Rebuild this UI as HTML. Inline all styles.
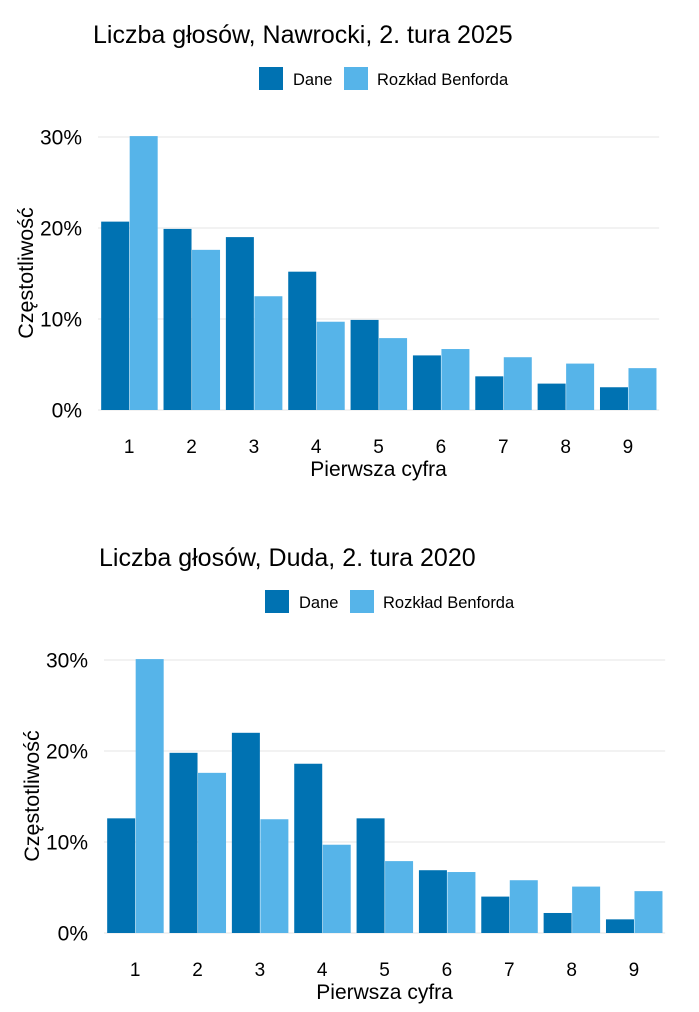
<!DOCTYPE html>
<html><head><meta charset="utf-8"><style>
body{margin:0;background:#fff;}
svg{display:block;font-family:"Liberation Sans",sans-serif;}
</style></head><body>
<svg id="s" width="699" height="1012"></svg>
<script>
const categories=["1","2","3","4","5","6","7","8","9"];
const benford=[30.1,17.6,12.5,9.7,7.9,6.7,5.8,5.1,4.6];
const nawrocki=[20.7,19.9,19.0,15.2,9.9,6.0,3.7,2.9,2.5];
const duda=[12.6,19.8,22.0,18.6,12.6,6.9,4.0,2.2,1.5];
const yTicks=[0,10,20,30];
const titles=["Liczba głosów, Nawrocki, 2. tura 2025","Liczba głosów, Duda, 2. tura 2020"];
const NS="http://www.w3.org/2000/svg";
const svg=document.getElementById('s');
function mk(tag,attrs,parent,text){const e=document.createElementNS(NS,tag);for(const k in attrs)e.setAttribute(k,attrs[k]);if(text!==undefined)e.textContent=text;parent.appendChild(e);return e;}
function chart(dx,dy,title,data,name){
  const g=mk('g',{transform:`translate(${dx},${dy})`},svg);
  
  
  const y0=410,ppu=9.1,x0=98,step=62.35,bw=28;
  const yS=v=>y0-v*ppu;
  const xS=i=>x0+step*(i+0.5);
  const t=mk('text',{x:93,y:43,'font-size':25,fill:'#000'},g,title);
  
  const lg=mk('g',{},g);
  const l1=mk('rect',{x:259,y:67,width:24,height:23,fill:'#0072B2'},lg);
  const lt1=mk('text',{x:293,y:85,'font-size':16.5},lg,'Dane');
  const l2=mk('rect',{x:344,y:67,width:24,height:23,fill:'#56B4E9'},lg);
  const lt2=mk('text',{x:377,y:85,'font-size':16.5},lg,'Rozkład Benforda');
  yTicks.forEach(v=>{
    const ln=mk('line',{x1:x0,x2:x0+step*9,y1:yS(v),y2:yS(v),stroke:'#e6e6e6','stroke-width':1},g);
    
    const tl=mk('text',{x:82,y:yS(v)+7.5,'font-size':21,'text-anchor':'end',fill:'#000'},g,v+'%');
    
  });
  categories.forEach((c,i)=>{
    const b1=mk('rect',{x:xS(i)-bw,y:yS(data[i]),width:bw,height:data[i]*ppu,fill:'#0072B2'},g);
    
    const b2=mk('rect',{x:xS(i)+0.5,y:yS(benford[i]),width:bw,height:benford[i]*ppu,fill:'#56B4E9'},g);
    
    const xt=mk('text',{x:xS(i),y:453,'font-size':19,'text-anchor':'middle'},g,c);
    
  });
  const xa=mk('text',{x:x0+step*4.5,y:476,'font-size':21,'text-anchor':'middle'},g,'Pierwsza cyfra');
  
  const ya=mk('text',{x:0,y:0,'font-size':21.5,'text-anchor':'middle',transform:'translate(33,273) rotate(-90)'},g,'Częstotliwość');
  
}
chart(0,0,titles[0],nawrocki,'chart-nawrocki');
chart(6,523,titles[1],duda,'chart-duda');
</script>
</body></html>
